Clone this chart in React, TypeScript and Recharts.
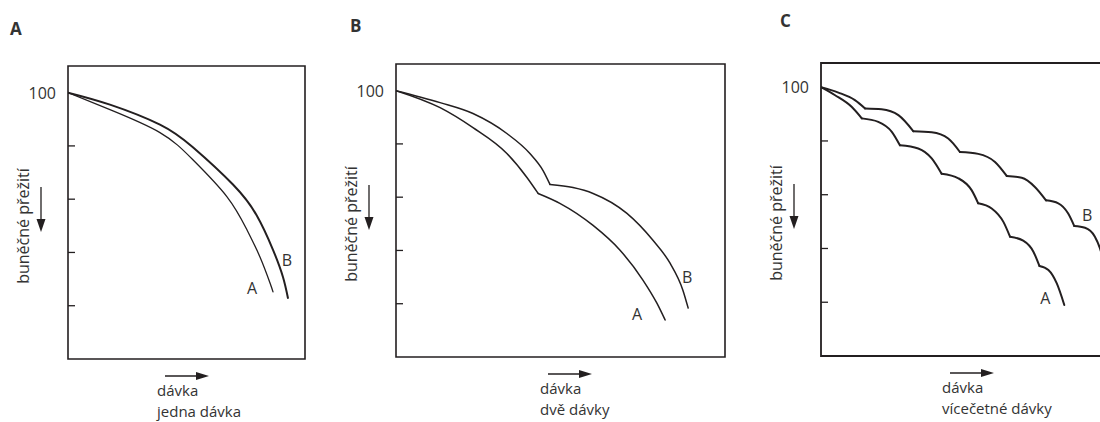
import React from 'react';
import { LineChart, Line, XAxis, YAxis, ReferenceArea, ReferenceDot } from 'recharts';

type Pt = [number, number];

// y axis: only "100" is labelled, the rest are bare inward ticks
const yTicks = [20, 40, 60, 80, 100];
const yTitle = 'buněčné přežití';
const xTitle = 'dávka';

// A - single dose (jedna dávka), dose 0-100 vs survival
const singleA: Pt[][] = [
  [[0, 100], [17.7, 93.6], [38.8, 85.0], [52.7, 74.8], [67.1, 60.9], [75.5, 48.5], [81.0, 38.3], [85.2, 28.6], [86.5, 25.2]],
];
const singleB: Pt[][] = [
  [[0, 100], [17.7, 95.5], [38.8, 88.0], [52.7, 79.5], [69.6, 65.5], [79.7, 53.8], [86.5, 41.0], [90.7, 30.8], [92.8, 22.9]],
];

// B - two doses (dvě dávky)
const twoA: Pt[][] = [
  [[0, 100], [13.4, 93.6], [23.4, 86.1], [33.7, 76.4], [39.8, 67.4], [43.2, 61.4]],
  [[43.2, 61.4], [49.8, 57.7], [59.9, 49.4], [68.1, 40.1], [75.1, 28.8], [79.3, 20.2], [81.8, 13.9]],
];
const twoB: Pt[][] = [
  [[0, 100], [13.4, 95.5], [23.4, 91.4], [33.7, 83.9], [40.7, 76.4], [44.7, 70.0], [46.8, 64.8]],
  [[46.8, 64.8], [53.8, 63.6], [59.9, 61.4], [70.2, 53.9], [78.1, 43.8], [83.3, 35.2], [87.2, 25.1], [88.8, 18.4]],
];

// C - fractionated doses (vícečetné dávky)
const multiA: Pt[][] = [
  [[0, 100], [4.7, 97.0], [10.2, 92.7], [13.6, 88.4]],
  [[13.6, 88.4], [19.1, 87.1], [23.6, 83.4], [26.3, 78.4]],
  [[26.3, 78.4], [32.4, 77.2], [36.9, 73.5], [40.2, 67.8]],
  [[40.2, 67.8], [45.8, 66.1], [50.2, 61.7], [52.4, 56.8]],
  [[52.4, 56.8], [56.9, 54.9], [60.8, 49.9], [63.0, 44.4]],
  [[63.0, 44.4], [67.4, 42.9], [70.8, 38.8], [72.8, 33.5]],
  [[72.8, 33.5], [75.8, 32.0], [78.6, 27.0], [81.1, 19.0]],
];
const multiB: Pt[][] = [
  [[0, 100], [5.8, 98.0], [11.3, 95.2], [14.7, 92.1]],
  [[14.7, 92.1], [20.2, 91.8], [25.8, 89.6], [30.8, 83.6]],
  [[30.8, 83.6], [36.9, 83.2], [42.4, 80.9], [46.3, 75.9]],
  [[46.3, 75.9], [52.4, 75.2], [58.0, 72.2], [61.9, 67.0]],
  [[61.9, 67.0], [66.9, 66.3], [71.3, 62.9], [75.0, 57.9]],
  [[75.0, 57.9], [79.1, 56.8], [82.4, 53.0], [84.4, 48.4]],
  [[84.4, 48.4], [88.0, 47.7], [91.3, 44.4], [93.0, 40.0], [94.5, 34.0]],
];

const INK = '#231f20';
const TEXT = '#333';
const FONT = '"Open Sans", "Noto Sans", sans-serif';
const FS = 16;
const XFS = 15;

interface Curve {
  name: string;
  segments: Pt[][];
  width: number;
  labelAt: 'end' | 'lastKink';
  dx: number;
  dy: number;
}

interface Panel {
  title: string;
  subtitle: string;
  left: number;
  width: number;
  top: number;
  right: number;
  bottom: number;
  axisW: number;
  yMax: number;
  boxWidth: number;
  curveType: 'natural' | 'monotone';
  titleOffset: [number, number];
  xLabelOffset: number;
  curves: Curve[];
}

const panels: Panel[] = [
  {
    title: 'A', subtitle: 'jedna dávka', left: 0, width: 340,
    top: 66, right: 35, bottom: 63, axisW: 68, yMax: 110, boxWidth: 1.6, curveType: 'natural',
    titleOffset: [-58, -31], xLabelOffset: 89,
    curves: [
      { name: 'A', segments: singleA, width: 1.3, labelAt: 'end', dx: -21, dy: -4 },
      { name: 'B', segments: singleB, width: 2, labelAt: 'end', dx: -1, dy: -38 },
    ],
  },
  {
    title: 'B', subtitle: 'dvě dávky', left: 330, width: 400,
    top: 64, right: 5, bottom: 65, axisW: 66, yMax: 110, boxWidth: 1.6, curveType: 'monotone',
    titleOffset: [-46, -32], xLabelOffset: 144,
    curves: [
      { name: 'A', segments: twoA, width: 1.5, labelAt: 'end', dx: -28, dy: -6 },
      { name: 'B', segments: twoB, width: 1.5, labelAt: 'end', dx: -1, dy: -31 },
    ],
  },
  {
    title: 'C', subtitle: 'vícečetné dávky', left: 740, width: 400,
    top: 63, right: 19, bottom: 66, axisW: 81, yMax: 109, boxWidth: 1.8, curveType: 'monotone',
    titleOffset: [-41, -36], xLabelOffset: 121,
    curves: [
      { name: 'A', segments: multiA, width: 2, labelAt: 'end', dx: -19, dy: -7 },
      { name: 'B', segments: multiB, width: 2, labelAt: 'lastKink', dx: 13, dy: -11 },
    ],
  },
];

function YTick(props: any) {
  const { x, y, payload } = props;
  if (payload.value === 100) {
    return (
      <text x={x - 12} y={y} textAnchor="end" dominantBaseline="central" fill={TEXT} fontFamily={FONT} fontSize={FS}>
        100
      </text>
    );
  }
  return <line x1={x} x2={x + 7} y1={y} y2={y} stroke={INK} strokeWidth={1.3} />;
}

function PanelChart({ p }: { p: Panel }) {
  const yLabel = (props: any) => {
    const vb = props.viewBox || {};
    const x = (vb.x ?? 0) + (vb.width ?? p.axisW);
    const y = vb.y ?? p.top;
    const cx = x - 45;
    const cy = y + 160;
    const ax = x - 27;
    return (
      <g>
        <text x={x + p.titleOffset[0]} y={y + p.titleOffset[1]} fill={TEXT} fontFamily={FONT} fontWeight={700} fontSize={17}>
          {p.title}
        </text>
        <text x={cx} y={cy} transform={`rotate(-90, ${cx}, ${cy})`} textAnchor="middle" dominantBaseline="central"
          fill={TEXT} fontFamily={FONT} fontSize={FS}>
          {yTitle}
        </text>
        <line x1={ax} x2={ax} y1={y + 121} y2={y + 156} stroke={INK} strokeWidth={1.3} />
        <polygon points={`${ax - 4.5},${y + 153} ${ax + 4.5},${y + 153} ${ax},${y + 166}`} fill={INK} />
      </g>
    );
  };

  const xLabel = (props: any) => {
    const vb = props.viewBox || {};
    const x = vb.x ?? p.axisW;
    const y = vb.y ?? 422 - p.bottom;
    const lx = x + p.xLabelOffset;
    const ay = y + 17;
    return (
      <g>
        <line x1={lx + 8} x2={lx + 42} y1={ay} y2={ay} stroke={INK} strokeWidth={1.3} />
        <polygon points={`${lx + 39},${ay - 4} ${lx + 39},${ay + 4} ${lx + 52},${ay}`} fill={INK} />
        <text x={lx} y={y + 37} fill={TEXT} fontFamily={FONT} fontSize={XFS}>{xTitle}</text>
        <text x={lx} y={y + 58} fill={TEXT} fontFamily={FONT} fontSize={XFS}>{p.subtitle}</text>
      </g>
    );
  };

  return (
    <div style={{ position: 'absolute', left: p.left, top: 0 }}>
      <LineChart width={p.width} height={422} margin={{ top: p.top, right: p.right, bottom: 0, left: 0 }}>
        <XAxis type="number" dataKey="x" domain={[0, 100]} allowDataOverflow height={p.bottom}
          tick={false} axisLine={false} tickLine={false} label={{ content: xLabel }} />
        <YAxis type="number" domain={[0, p.yMax]} ticks={yTicks} allowDataOverflow width={p.axisW}
          axisLine={false} tickLine={false} tickSize={0} tickMargin={0} tick={(t: any) => <YTick {...t} />}
          interval={0} label={{ content: yLabel }} />
        <ReferenceArea x1={0} x2={100} y1={0} y2={p.yMax} fill="#fff" fillOpacity={0}
          stroke={INK} strokeWidth={p.boxWidth} ifOverflow="visible" />
        {p.curves.map((c) =>
          c.segments.map((seg, i) => (
            <Line
              key={`${c.name}-${i}`}
              data={seg.map(([x, y]) => ({ x, y }))}
              dataKey="y"
              type={p.curveType}
              stroke={INK}
              strokeWidth={c.width}
              strokeLinecap="round"
              dot={false}
              activeDot={false}
              isAnimationActive={false}
            />
          ))
        )}
        {p.curves.map((c) => {
          const seg = c.segments[c.segments.length - 1];
          const pt = c.labelAt === 'end' ? seg[seg.length - 1] : seg[0];
          return (
            <ReferenceDot
              key={`lbl-${c.name}`}
              x={pt[0]}
              y={pt[1]}
              r={1}
              fill="none"
              stroke="none"
              label={({ viewBox }: any) => (
                <text x={viewBox.x + 1 + c.dx} y={viewBox.y + 1 + c.dy} textAnchor="middle" dominantBaseline="central"
                  fill={TEXT} fontFamily={FONT} fontSize={FS}>
                  {c.name}
                </text>
              )}
            />
          );
        })}
      </LineChart>
    </div>
  );
}

export default function App() {
  return (
    <div style={{ position: 'fixed', left: 0, top: 0, width: 1100, height: 422, overflow: 'hidden', background: '#fff' }}>
      {panels.map((p) => (
        <PanelChart key={p.title} p={p} />
      ))}
    </div>
  );
}
